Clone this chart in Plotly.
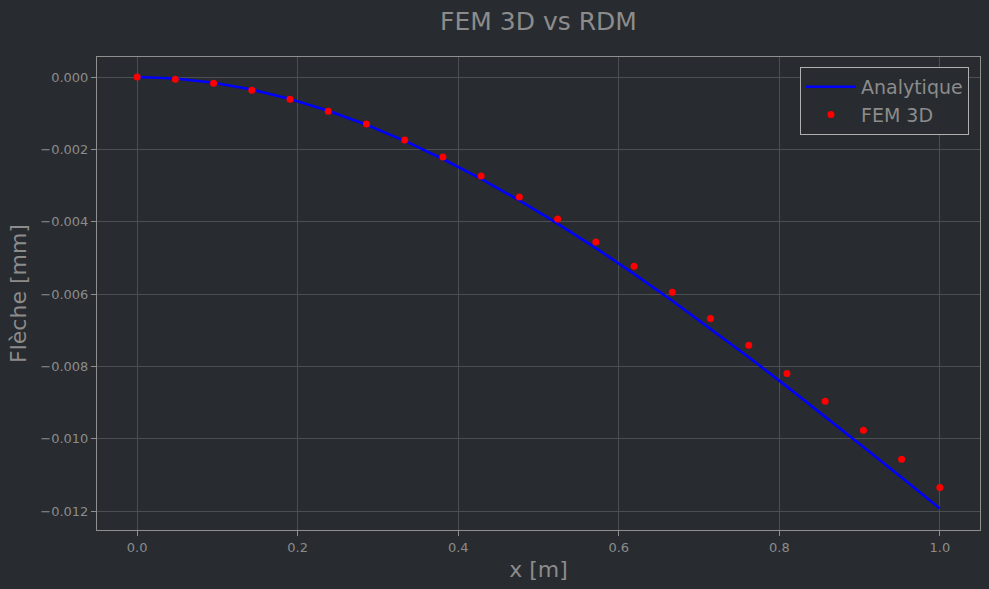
import plotly.graph_objects as go

x_vals = [0.0, 0.047619, 0.095238, 0.142857, 0.190476, 0.238095, 0.285714, 0.333333,
          0.380952, 0.428571, 0.476190, 0.523810, 0.571429, 0.619048, 0.666667, 0.714286,
          0.761905, 0.809524, 0.857143, 0.904762, 0.952381, 1.0]
analytic = [0.0, -0.0000399, -0.000157, -0.0003475, -0.0006075, -0.0009332, -0.0013206,
            -0.0017659, -0.0022653, -0.0028149, -0.0034109, -0.0040493, -0.0047263,
            -0.0054381, -0.0061807, -0.0069504, -0.0077433, -0.0085555, -0.0093831,
            -0.0102223, -0.0110692, -0.01192]
fem3d = [0.0, -0.00006, -0.000174, -0.000368, -0.000617, -0.000948, -0.001299, -0.00174,
         -0.00221, -0.002735, -0.003316, -0.003924, -0.00456, -0.00523, -0.00595, -0.00667,
         -0.00741, -0.00819, -0.00896, -0.00976, -0.01056, -0.01134]

bg = "#282b2f"
txt = "#8c8c8c"
grid = "#4b4e52"
axc = "#8f8f8f"

fig = go.Figure()
fig.add_trace(go.Scatter(x=x_vals, y=analytic, mode="lines", name="Analytique",
                         line=dict(color="#0000ff", width=2.6)))
fig.add_trace(go.Scatter(x=x_vals, y=fem3d, mode="markers", name="FEM 3D",
                         marker=dict(color="#ff0000", size=7, line=dict(width=0))))

fig.update_layout(
    width=989, height=589,
    paper_bgcolor=bg, plot_bgcolor=bg,
    margin=dict(l=97, r=9, t=57, b=59),
    font=dict(family="DejaVu Sans", color=txt, size=13),
    title=dict(text="FEM 3D vs RDM", x=0.5, xref="paper", xanchor="center", y=0.964,
               yanchor="middle", font=dict(size=25, color=txt)),
    legend=dict(x=0.9875, xanchor="right", y=0.979, yanchor="top",
                bgcolor=bg, bordercolor="#b0b0b0", borderwidth=1,
                font=dict(size=19, color=txt), itemwidth=50),
    showlegend=True,
)
fig.update_xaxes(range=[-0.05, 1.05], tickvals=[0, 0.2, 0.4, 0.6, 0.8, 1.0], tickformat=".1f",
                 showgrid=True, gridcolor=grid, gridwidth=1, zeroline=False,
                 showline=True, linecolor=axc, linewidth=1, mirror=True,
                 ticks="outside", ticklen=5, tickcolor=axc,
                 title=dict(text="x [m]", font=dict(size=22, color=txt), standoff=8))
fig.update_yaxes(range=[-0.012517, 0.000553],
                 tickvals=[0, -0.002, -0.004, -0.006, -0.008, -0.010, -0.012], tickformat=".3f",
                 showgrid=True, gridcolor=grid, gridwidth=1, zeroline=False,
                 showline=True, linecolor=axc, linewidth=1, mirror=True,
                 ticks="outside", ticklen=5, tickcolor=axc,
                 title=dict(text="Flèche [mm]", font=dict(size=22, color=txt), standoff=7))

fig.write_html("out.html", config={"displayModeBar": False},
               post_script="document.body.style.margin='0';document.body.style.padding='0';"
                           "document.body.style.overflow='hidden';"
                           "document.body.style.background='" + bg + "';")
